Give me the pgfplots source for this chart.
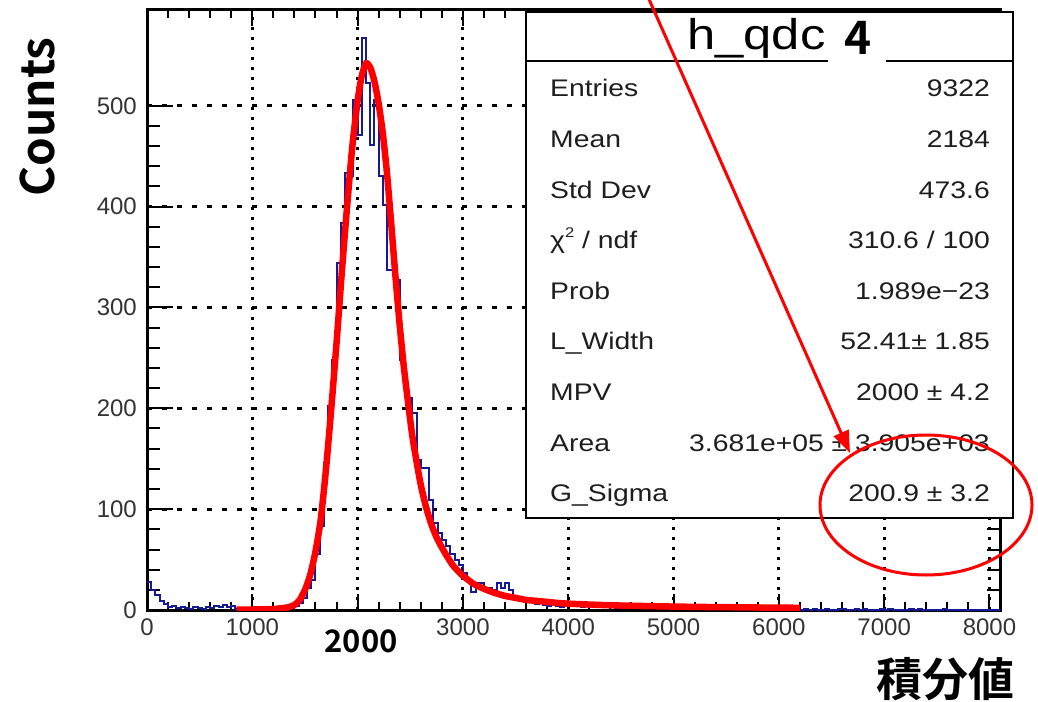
\documentclass[border=0pt]{standalone}
\usepackage{pgfplots}
\pgfplotsset{compat=1.18}
\usepackage{pgfplotstable}
\usepackage{fontspec}
\usetikzlibrary{arrows.meta}
\setmainfont{Liberation Sans}
\newfontfamily\statfont{Liberation Sans}[FakeStretch=1.18]
\newfontfamily\jpfont{Noto Sans CJK JP}[BoldFont={* Bold}]
\definecolor{histblue}{RGB}{20,25,150}
\definecolor{stattext}{RGB}{30,30,30}

\pgfplotstableread[row sep=\\]{
x y\\
0 28\\ 40 20\\ 80 15\\ 120 9\\ 160 6\\ 200 3\\ 240 4\\ 280 2\\ 320 3\\ 360 2\\
400 1\\ 440 3\\ 480 2\\ 520 1\\ 560 3\\ 600 2\\ 640 4\\ 680 3\\ 720 5\\ 760 3\\
800 4\\ 840 1\\ 880 2\\ 920 0\\ 960 1\\ 1000 0\\ 1040 1\\ 1080 0\\ 1120 1\\ 1160 0\\
1200 1\\ 1240 0\\ 1280 1\\ 1320 2\\ 1360 2\\ 1400 4\\ 1440 7\\ 1480 12\\ 1520 22\\ 1560 30\\
1600 56\\ 1640 83\\ 1680 146\\ 1720 202\\ 1760 248\\ 1800 344\\ 1840 384\\ 1880 433\\ 1920 430\\ 1960 506\\
2000 471\\ 2040 567\\ 2080 523\\ 2120 461\\ 2160 506\\ 2200 430\\ 2240 402\\ 2280 337\\ 2320 337\\ 2360 327\\
2400 248\\ 2440 222\\ 2480 210\\ 2520 195\\ 2560 149\\ 2600 141\\ 2640 141\\ 2680 109\\ 2720 86\\ 2760 76\\
2800 69\\ 2840 63\\ 2880 56\\ 2920 50\\ 2960 45\\ 3000 37\\ 3040 30\\ 3080 18\\ 3120 27\\ 3160 27\\
3200 22\\ 3240 22\\ 3280 20\\ 3320 27\\ 3360 22\\ 3400 27\\ 3440 20\\ 3480 12\\ 3520 12\\ 3560 10\\
3600 8\\ 3640 9\\ 3680 6\\ 3720 7\\ 3760 5\\ 3800 4\\ 3840 6\\ 3880 4\\ 3920 3\\ 3960 5\\
4000 5\\ 4040 4\\ 4080 6\\ 4120 3\\ 4160 5\\ 4200 4\\ 4240 3\\ 4280 5\\ 4320 4\\ 4360 3\\
4400 4\\ 4440 2\\ 4480 4\\ 4520 3\\ 4560 5\\ 4600 3\\ 4640 2\\ 4680 4\\ 4720 3\\ 4760 2\\
4800 4\\ 4840 3\\ 4880 2\\ 4920 3\\ 4960 4\\ 5000 2\\ 5040 3\\ 5080 3\\ 5120 2\\ 5160 4\\
5200 2\\ 5240 3\\ 5280 2\\ 5320 3\\ 5360 1\\ 5400 3\\ 5440 2\\ 5480 2\\ 5520 3\\ 5560 1\\
5600 2\\ 5640 3\\ 5680 2\\ 5720 1\\ 5760 2\\ 5800 2\\ 5840 1\\ 5880 3\\ 5920 1\\ 5960 2\\
6000 1\\ 6040 2\\ 6080 1\\ 6120 1\\ 6160 2\\ 6200 0\\ 6240 1\\ 6280 0\\ 6320 1\\ 6360 0\\
6400 0\\ 6440 1\\ 6480 0\\ 6520 0\\ 6560 1\\ 6600 1\\ 6640 0\\ 6680 0\\ 6720 1\\ 6760 0\\
6800 1\\ 6840 0\\ 6880 0\\ 6920 0\\ 6960 1\\ 7000 0\\ 7040 1\\ 7080 0\\ 7120 0\\ 7160 0\\
7200 0\\ 7240 1\\ 7280 0\\ 7320 1\\ 7360 0\\ 7400 0\\ 7440 0\\ 7480 0\\ 7520 0\\ 7560 1\\
7600 0\\ 7640 0\\ 7680 0\\ 7720 0\\ 7760 0\\ 7800 0\\ 7840 0\\ 7880 0\\ 7920 0\\ 7960 0\\
8000 0\\ 8040 0\\ 8080 0\\ 8100 0\\
}\hist

\pgfplotstableread[row sep=\\]{
x y\\
850 0.3\\ 1000 0.5\\ 1100 0.7\\ 1200 1\\ 1300 2\\ 1350 3\\ 1400 5\\ 1450 10\\ 1500 20\\ 1550 35\\
1600 58\\ 1650 90\\ 1700 140\\ 1750 200\\ 1800 265\\ 1850 335\\ 1900 400\\ 1950 460\\ 2000 505\\ 2040 530\\
2080 542\\ 2120 538\\ 2160 524\\ 2200 502\\ 2240 472\\ 2280 432\\ 2320 382\\ 2360 330\\ 2400 282\\ 2440 240\\
2480 205\\ 2520 172\\ 2560 147\\ 2600 124\\ 2650 102\\ 2700 85\\ 2750 72\\ 2800 62\\ 2850 53\\ 2900 45\\
2950 39\\ 3000 34\\ 3100 26\\ 3200 21\\ 3300 17\\ 3400 14\\ 3500 12\\ 3600 10\\ 3700 9\\ 3800 8\\
3900 7\\ 4000 6.3\\ 4200 5.4\\ 4400 4.7\\ 4600 4.2\\ 4800 3.8\\ 5000 3.4\\ 5300 3.0\\ 5600 2.7\\ 5900 2.4\\
6200 2.2\\
}\fit

\begin{document}
\begin{tikzpicture}
\path[use as bounding box] (0pt,0pt) rectangle (1038pt,-701pt);
\begin{axis}[
  at={(147pt,-610pt)}, anchor=south west,
  scale only axis, width=853pt, height=600pt,
  xmin=0, xmax=8100, ymin=0, ymax=595,
  xtick={0,1000,...,8000},
  xticklabels={0,1000,,3000,4000,5000,6000,7000,8000},
  ytick={0,100,...,500},
  minor x tick num=4, minor y tick num=4,
  tick align=inside,
  major tick length=26pt, minor tick length=13pt,
  xtick style={/pgfplots/major tick length=16pt,/pgfplots/minor tick length=8pt},
  tick style={black, line width=2pt},
  axis line style={line width=3pt},
  grid=major,
  x grid style={black, line width=3pt, dash pattern=on 3.3pt off 6.7pt},
  y grid style={black, line width=3pt, dash pattern=on 5pt off 10pt},
  tick label style={font=\fontsize{24}{24}\selectfont, text=black!80, inner sep=0pt},
  xticklabel shift=9pt,
  yticklabel shift=10pt,
  /pgf/number format/assume math mode=true,
  scaled ticks=false,
]
\addplot[const plot mark left, histblue, line width=2pt] table {\hist};
\addplot[red, line width=6.5pt, smooth, tension=0.4] table {\fit};
\end{axis}

\begin{scope}[x=1pt,y=-1pt]
% stats box
\draw[black, line width=2.5pt, fill=white] (526,12) rectangle (1013,518);
\draw[black, line width=2.5pt] (526,61) -- (1013,61);
\node[anchor=base west, inner sep=0pt, font=\statfont\fontsize{43}{43}\selectfont] at (687,50) {h\_qdc};
\fill[white] (828,14) rectangle (886,65);
\node[anchor=center, inner sep=0pt, font=\jpfont\bfseries\fontsize{46}{46}\selectfont] at (858,38) {4};
\begin{scope}[every node/.style={inner sep=0pt, text=stattext, font=\statfont\fontsize{24}{24}\selectfont}]
\node[anchor=base west] at (550,96.8) {Entries};
\node[anchor=base east] at (990,96.8) {9322};
\node[anchor=base west] at (550,147.4) {Mean};
\node[anchor=base east] at (990,147.4) {2184};
\node[anchor=base west] at (550,198.0) {Std Dev};
\node[anchor=base east] at (990,198.0) {473.6};
\node[anchor=base west] at (550,248.6) {χ\raisebox{0.45em}{\fontsize{14}{14}\selectfont 2} / ndf};
\node[anchor=base east] at (990,248.6) {310.6 / 100};
\node[anchor=base west] at (550,299.2) {Prob};
\node[anchor=base east] at (990,299.2) {1.989e−23};
\node[anchor=base west] at (550,349.8) {L\_Width};
\node[anchor=base east] at (990,349.8) {52.41± 1.85};
\node[anchor=base west] at (550,400.4) {MPV};
\node[anchor=base east] at (990,400.4) {2000 ± 4.2};
\node[anchor=base west] at (550,451.0) {Area};
\node[anchor=base east] at (990,451.0) {3.681e+05 ± 3.905e+03};
\node[anchor=base west] at (550,501.6) {G\_Sigma};
\node[anchor=base east] at (990,501.6) {200.9 ± 3.2};
\end{scope}
% annotations
\draw[red, line width=3pt, -{Triangle[length=22pt,width=16pt]}] (648,-3) -- (850,453);
\draw[red, line width=3pt] (926,505) ellipse [x radius=106, y radius=70];
\node[rotate=90, anchor=center, inner sep=0pt, font=\jpfont\bfseries\fontsize{46}{46}\selectfont] at (37,117) {Counts};
\node[anchor=center, inner sep=0pt, font=\jpfont\bfseries\fontsize{31}{31}\selectfont] at (361,641) {2000};
\node[anchor=center, inner sep=0pt, font=\jpfont\bfseries\fontsize{46}{46}\selectfont] at (945,679) {積分値};
\end{scope}
\end{tikzpicture}
\end{document}
